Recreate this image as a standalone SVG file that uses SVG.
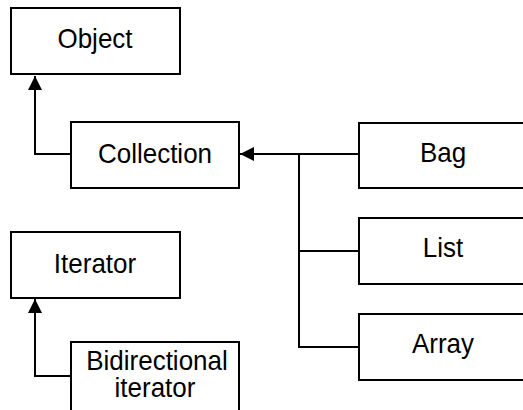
<svg xmlns="http://www.w3.org/2000/svg" width="523" height="410" viewBox="0 0 523 410">
  <defs>
    <style>
      .box { fill: #ffffff; stroke: #000000; stroke-width: 2; }
      .label { font-family: "Liberation Sans", Arial, sans-serif; font-size: 26px; fill: #000000; text-anchor: middle; }
      .link { fill: none; stroke: #000000; stroke-width: 2; }
    </style>
    <marker id="arrow" viewBox="0 0 14 14" refX="14" refY="7" markerWidth="14" markerHeight="14" markerUnits="userSpaceOnUse" orient="auto">
      <path d="M0,0 L14,7 L0,14 Z" fill="#000000"/>
    </marker>
  </defs>
  <rect width="523" height="410" fill="#ffffff"/>

  <g id="connectors">
    <!-- Collection -> Object -->
    <path class="link" d="M71,154 L35,154 L35,76" marker-end="url(#arrow)"/>
    <!-- Bag, List, Array -> Collection -->
    <path class="link" d="M359,154 L299,154 L240,154" marker-end="url(#arrow)"/>
    <path class="link" d="M359,251 L299,251 L299,154 L252,154"/>
    <path class="link" d="M359,347 L299,347 L299,251"/>
    <!-- Bidirectional iterator -> Iterator -->
    <path class="link" d="M71,376 L35,376 L35,299" marker-end="url(#arrow)"/>
  </g>

  <!-- labels are drawn slightly tall: scale(1,1.08) about their baseline -->
  <g id="object">
    <rect class="box" x="11" y="8" width="169" height="66"/>
    <text class="label" transform="translate(95,48) scale(1,1.08)">Object</text>
  </g>
  <g id="collection">
    <rect class="box" x="71" y="122" width="168" height="66"/>
    <text class="label" transform="translate(155,163) scale(1,1.08)">Collection</text>
  </g>
  <g id="bag">
    <rect class="box" x="359" y="123" width="168" height="65"/>
    <text class="label" transform="translate(443,162) scale(1,1.08)">Bag</text>
  </g>
  <g id="list">
    <rect class="box" x="359" y="218" width="168" height="66"/>
    <text class="label" transform="translate(443,257) scale(1,1.08)">List</text>
  </g>
  <g id="array">
    <rect class="box" x="359" y="314" width="168" height="66"/>
    <text class="label" transform="translate(443,353) scale(1,1.08)">Array</text>
  </g>
  <g id="iterator">
    <rect class="box" x="11" y="232" width="169" height="66"/>
    <text class="label" transform="translate(95,273) scale(1,1.08)">Iterator</text>
  </g>
  <g id="bidirectional-iterator">
    <rect class="box" x="71" y="342" width="168" height="70"/>
    <text class="label" transform="translate(157,370) scale(1,1.08)">Bidirectional</text>
    <text class="label" transform="translate(155,397) scale(1,1.08)">iterator</text>
  </g>
</svg>
